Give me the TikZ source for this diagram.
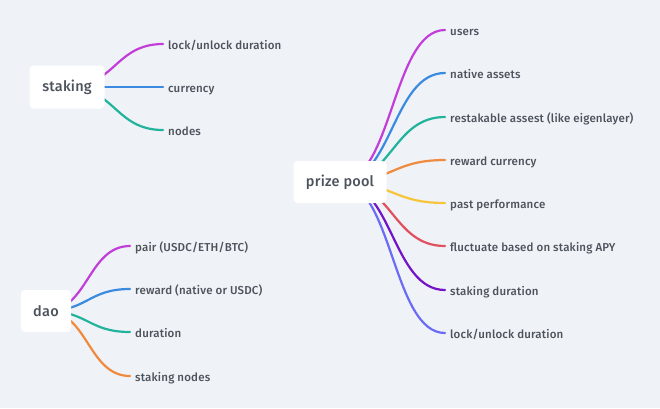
\documentclass[tikz,border=0pt]{standalone}
\usepackage{fontspec}
\setmainfont{Fira Sans Medium}[LetterSpace=1.5]
\usetikzlibrary{calc,backgrounds}
\definecolor{bgc}{HTML}{EFF2F6}
\definecolor{txt}{HTML}{4D535C}
\definecolor{cpurple}{HTML}{C13FD8}
\definecolor{cblue}{HTML}{3A8BE0}
\definecolor{cteal}{HTML}{22B39C}
\definecolor{corange}{HTML}{EF8A3E}
\definecolor{cyellow}{HTML}{F7C53C}
\definecolor{cred}{HTML}{E0505F}
\definecolor{cviolet}{HTML}{7414C8}
\definecolor{cperi}{HTML}{6B6CF6}
\tikzset{
  rootbox/.style={fill=white, rounded corners=4pt, text=txt, font=\fontsize{14.5}{16}\selectfont, inner sep=0pt, align=center},
  leaf/.style={anchor=west, text=txt, font=\fontsize{11.5}{12}\selectfont, inner sep=0pt, text height=11pt, text depth=0.6pt},
  branchline/.style={line width=2.2pt, line cap=round},
}
\newcommand\mybranch[3]{%
  \draw[branchline, draw=#1] let \p1=(#2.center), \p2=([xshift=-5pt]#3.west) in
    (\p1) .. controls ({(\x1+\x2)/2},\y1) and ({(\x1+\x2)/2},\y2) .. (\p2);}
\begin{document}
\begin{tikzpicture}[x=1pt,y=-1pt]
\useasboundingbox (0,0) rectangle (660,408);
% roots
\node[rootbox, minimum width=75pt, minimum height=43pt] (staking) at (67,87) {staking};
\node[rootbox, minimum width=93pt, minimum height=42pt] (prize) at (340,182) {prize pool};
\node[rootbox, minimum width=50pt, minimum height=42pt] (dao) at (46,311) {dao};
% staking leaves
\node[leaf] (s1) at (168,44) {lock/unlock duration};
\node[leaf] (s2) at (168,87) {currency};
\node[leaf] (s3) at (168,130) {nodes};
% prize pool leaves
\node[leaf] (p1) at (450,30) {users};
\node[leaf] (p2) at (450,73) {native assets};
\node[leaf] (p3) at (450,117) {restakable assest (like eigenlayer)};
\node[leaf] (p4) at (450,160) {reward currency};
\node[leaf] (p5) at (450,203) {past performance};
\node[leaf] (p6) at (450,246) {fluctuate based on staking APY};
\node[leaf] (p7) at (450,290) {staking duration};
\node[leaf] (p8) at (450,333) {lock/unlock duration};
% dao leaves
\node[leaf] (d1) at (135,246) {pair (USDC/ETH/BTC)};
\node[leaf] (d2) at (135,289) {reward (native or USDC)};
\node[leaf] (d3) at (135,332) {duration};
\node[leaf] (d4) at (135,376) {staking nodes};
\begin{scope}[on background layer]
\fill[bgc] (0,0) rectangle (660,408);
\mybranch{cpurple}{staking}{s1}
\mybranch{cblue}{staking}{s2}
\mybranch{cteal}{staking}{s3}
\mybranch{cpurple}{prize}{p1}
\mybranch{cblue}{prize}{p2}
\mybranch{cteal}{prize}{p3}
\mybranch{corange}{prize}{p4}
\mybranch{cyellow}{prize}{p5}
\mybranch{cred}{prize}{p6}
\mybranch{cviolet}{prize}{p7}
\mybranch{cperi}{prize}{p8}
\mybranch{cpurple}{dao}{d1}
\mybranch{cblue}{dao}{d2}
\mybranch{cteal}{dao}{d3}
\mybranch{corange}{dao}{d4}
\end{scope}
\end{tikzpicture}
\end{document}
